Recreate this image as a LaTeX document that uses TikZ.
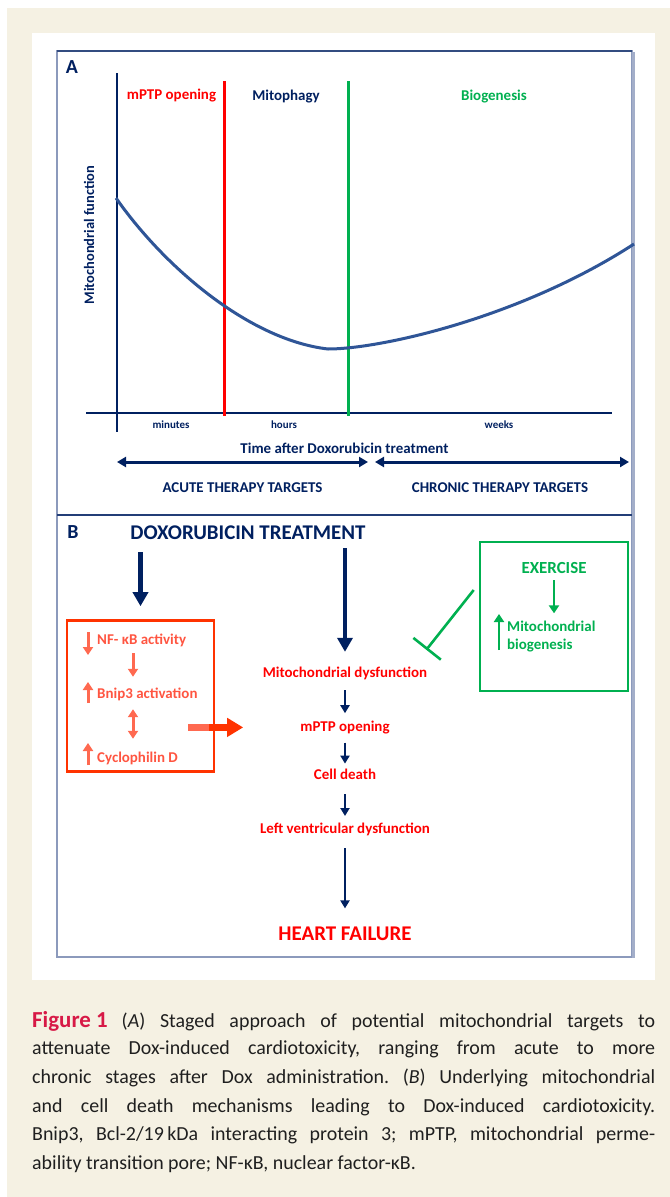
\documentclass[tikz,border=0pt]{standalone}
\usepackage{fontspec}
\setmainfont{Carlito}
\usetikzlibrary{positioning,arrows.meta,calc}
\definecolor{doxblue}{RGB}{0,32,96}
\definecolor{curveblue}{RGB}{47,85,151}
\definecolor{mptpred}{RGB}{255,0,0}
\definecolor{boxred}{RGB}{255,51,0}
\definecolor{boxtext}{RGB}{255,85,65}
\definecolor{salmon}{RGB}{255,105,80}
\definecolor{exgreen}{RGB}{0,176,80}
\definecolor{framegray}{RGB}{140,154,188}
\definecolor{paper}{RGB}{245,241,227}
\definecolor{figred}{RGB}{215,25,70}
\frenchspacing

\begin{document}
\begin{tikzpicture}[x=1bp, y=-1bp,
    lbl/.style={font=\bfseries\fontsize{15}{18}\selectfont, inner sep=0pt},
    tinylbl/.style={font=\bfseries\fontsize{11}{13}\selectfont, inner sep=0pt, text=doxblue},
    biglbl/.style={font=\bfseries\fontsize{21}{24}\selectfont, inner sep=0pt, text height=14bp, text depth=0pt},
    flow/.style={lbl, text=mptpred, text height=11bp, text depth=3bp},
    boxlbl/.style={lbl, text=boxtext, anchor=west, text height=11bp, text depth=3bp},
    bigarrow/.style={draw=doxblue, line width=4.5bp, -{Triangle[width=15bp,length=14bp]}},
    smallarrow/.style={draw=doxblue, line width=2.8bp, -{Triangle[width=9bp,length=8bp]}},
    spanarrow/.style={draw=doxblue, line width=3bp, {Triangle[width=10bp,length=9bp]}-{Triangle[width=10bp,length=9bp]}},
    boxarrow/.style={draw=salmon, line width=3bp, -{Triangle[width=10bp,length=8bp]}},
    greenarrow/.style={draw=exgreen, line width=2.8bp, -{Triangle[width=10bp,length=8bp]}},
    redarrow/.style={draw=boxred, line width=7bp, -{Triangle[width=18bp,length=16bp]}},
    inhibit/.style={draw=exgreen, line width=2.6bp, -{Bar[width=35bp]}},
    capline/.style={anchor=west, inner sep=0pt, font=\fontsize{20}{24}\selectfont, text=black!88}]

% page, panel and frame
\useasboundingbox (0,0) rectangle (670,1197);
\fill[white] (0,0) rectangle (670,1197);
\fill[paper] (7,8) rectangle (670,1197);
\fill[white] (32,33) rectangle (655,980);
\draw[framegray, line width=1.5bp] (57,51) rectangle (632,957);
\draw[framegray!80, line width=3bp] (633,52) -- (633,958);
\draw[doxblue!80, line width=1.2bp] (57,51) -- (632,51);
\draw[doxblue!75!framegray, line width=1.5bp] (57,515) -- (632,515);

% ---- panel A
\node[font=\bfseries\fontsize{20}{22}\selectfont, text=doxblue, inner sep=0pt] (pa) at (72,67) {A};
\draw[doxblue, line width=1.2bp] (117,73) -- (117,432);
\draw[doxblue, line width=1.2bp] (86,413) -- (612,413);
\draw[mptpred, line width=3bp] (224,81) -- (224,416);
\draw[exgreen, line width=3bp] (348,81) -- (348,416);
\draw[curveblue, line width=3bp] (116,198) .. controls (165,268) and (250,340) .. (328,349)
  .. controls (380,349) and (520,318) .. (634,244);

\node[lbl, text=mptpred] (opening) at (171.5,96) {mPTP opening};
\node[lbl, text=doxblue] (mitophagy) at (286,97) {Mitophagy};
\node[lbl, text=exgreen] (biogen) at (494,97) {Biogenesis};
\node[lbl, text=doxblue, rotate=90, font=\bfseries\fontsize{14.5}{16}\selectfont] (yfunc) at (89,235) {Mitochondrial function};

\node[tinylbl] (minutes) at (171,425) {minutes};
\node[tinylbl] (hours) at (284,425) {hours};
\node[tinylbl] (weeks) at (499,425) {weeks};
\node[lbl, text=doxblue] (timeafter) at (344.5,448) {Time after Doxorubicin treatment};

\coordinate (acuteL) at (117,462);
\coordinate (acuteR) at (368,462);
\coordinate (chronL) at (375,462);
\coordinate (chronR) at (629,462);
\draw[spanarrow] (acuteL) -- (acuteR);
\draw[spanarrow] (chronL) -- (chronR);
\node[lbl, text=doxblue] (acute) at (242.5,488) {ACUTE THERAPY TARGETS};
\node[lbl, text=doxblue] (chronic) at (500,488) {CHRONIC THERAPY TARGETS};

% ---- panel B
\node[font=\bfseries\fontsize{20}{22}\selectfont, text=doxblue, inner sep=0pt] (pb) at (73,532) {B};
\node[biglbl, text=doxblue] (dox) at (248,532) {DOXORUBICIN TREATMENT};

\node[flow] (mdys) at (345,673) {Mitochondrial dysfunction};
\node[flow, below=40bp of mdys] (mptp) {mPTP opening};
\node[flow, below=34bp of mptp] (death) {Cell death};
\node[flow, below=39bp of death] (lvd) {Left ventricular dysfunction};
\node[biglbl, text=mptpred, text height=15bp, below=89bp of lvd] (hf) {HEART FAILURE};

\draw[bigarrow, shorten <=9bp, shorten >=14bp] (dox.south -| mdys.north) -- (mdys.north);
\draw[smallarrow, shorten <=10bp, shorten >=7bp] (mdys.south) -- (mptp.north);
\draw[smallarrow, shorten <=8bp, shorten >=5bp] (mptp.south) -- (death.north);
\draw[smallarrow, shorten <=11bp, shorten >=6bp] (death.south) -- (lvd.north);
\draw[smallarrow, shorten <=12bp, shorten >=17bp] (lvd.south) -- (hf.north);

% red box
\node[draw=boxred, line width=2.6bp, minimum width=147bp, minimum height=151bp, inner sep=0pt] (nfbox) at (140.5,696) {};
\draw[bigarrow, shorten <=13bp, shorten >=13bp] (dox.south -| nfbox.north) -- (nfbox.north);
\node[boxlbl] (nfkb) at (97,640) {NF- κB activity};
\node[boxlbl] (bnip) at (97,694) {Bnip3 activation};
\node[boxlbl] (cypd) at (97,758) {Cyclophilin D};
\coordinate (mid) at (133,0);
\draw[boxarrow] ($(nfkb.west)+(-9,-8)$) -- ($(nfkb.west)+(-9,15)$);
\draw[boxarrow] ($(bnip.west)+(-9,9)$) -- ($(bnip.west)+(-9,-12)$);
\draw[boxarrow] ($(cypd.west)+(-9,7)$) -- ($(cypd.west)+(-9,-15)$);
\draw[boxarrow, shorten <=6bp, shorten >=10bp] (nfkb.south -| mid) -- (bnip.north -| mid);
\draw[boxarrow, {Triangle[width=10bp,length=8bp]}-{Triangle[width=10bp,length=8bp]}, shorten <=8bp, shorten >=12bp] (bnip.south -| mid) -- (cypd.north -| mid);

\coordinate (rstart) at ($(nfbox.east |- mptp)+(-27,0)$);
\coordinate (rmid) at ($(rstart)+(21,0)$);
\draw[salmon, line width=7bp] (rstart) -- (rmid);
\draw[redarrow] (rmid) -- ($(mptp.west)+(-57,0)$);

% green box
\node[draw=exgreen, line width=2.6bp, minimum width=148bp, minimum height=149bp, inner sep=0pt] (exbox) at (554,616.5) {};
\node[lbl, text=exgreen, font=\bfseries\fontsize{17}{19}\selectfont, text height=11bp, text depth=0pt] (exercise) at (554,568) {EXERCISE};
\node[lbl, text=exgreen, align=left, anchor=west, font=\bfseries\fontsize{15}{19}\selectfont] (mitob) at (507,636.5) {Mitochondrial\\biogenesis};
\draw[greenarrow, shorten <=6.5bp, shorten >=7bp] (exercise.south) -- (exercise.south |- mitob.north);
\draw[greenarrow] ($(mitob.west)+(-8,13.5)$) -- ($(mitob.west)+(-8,-22.5)$);
\draw[inhibit] ($(exbox.west)+(-5,-26.5)$) -- ($(mdys.north east)+(-1,-16)$);

% ---- caption
\node[capline] (cap1) at (32,1021) {\makebox[623bp][s]{{\color{figred}\bfseries\fontsize{23}{24}\selectfont\hbox{Figure 1}}\hspace{14bp}(\textit{A}) Staged approach of potential mitochondrial targets to}};
\node[capline] (cap2) at (32,1049.6) {\makebox[623bp][s]{attenuate Dox-induced cardiotoxicity, ranging from acute to more}};
\node[capline] (cap3) at (32,1078.2) {\makebox[623bp][s]{chronic stages after Dox administration. (\textit{B}) Underlying mitochondrial}};
\node[capline] (cap4) at (32,1106.8) {\makebox[623bp][s]{and cell death mechanisms leading to Dox-induced cardiotoxicity.}};
\node[capline] (cap5) at (32,1135.4) {\makebox[623bp][s]{Bnip3, Bcl-2/19\,kDa interacting protein 3; mPTP, mitochondrial perme-}};
\node[capline] (cap6) at (32,1164) {ability transition pore; NF-κB, nuclear factor-κB.};
\end{tikzpicture}
\end{document}
